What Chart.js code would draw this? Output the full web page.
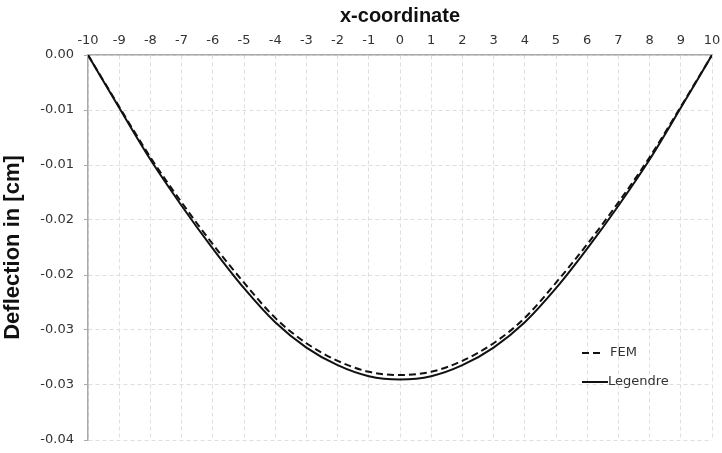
<!DOCTYPE html>
<html>
<head>
<meta charset="utf-8">
<script src="https://cdn.jsdelivr.net/npm/chart.js@4.4.1/dist/chart.umd.min.js"></script>
<style>
  html, body { margin: 0; padding: 0; background: #fff; }
  #wrap { width: 722px; height: 453px; }
</style>
</head>
<body>
<div id="wrap"><canvas id="deflection"></canvas></div>
<script>
// beam positions along x
var xPos = [-10, -9, -8, -7, -6, -5, -4, -3, -2, -1, 0, 1, 2, 3, 4, 5, 6, 7, 8, 9, 10];

// deflection [cm], FEM solution
var femVals = [0, -0.0047, -0.0093, -0.0134, -0.0172, -0.0207, -0.0239, -0.0262, -0.0278, -0.0288, -0.0291,
               -0.0288, -0.0278, -0.0262, -0.0239, -0.0207, -0.0172, -0.0134, -0.0093, -0.0047, 0];

// deflection [cm], Legendre series
var legVals = [0, -0.0048, -0.0095, -0.0137, -0.0176, -0.0212, -0.0243, -0.0266, -0.0282, -0.0292, -0.0295,
               -0.0292, -0.0282, -0.0266, -0.0243, -0.0212, -0.0176, -0.0137, -0.0095, -0.0048, 0];

// y tick labels, top to bottom (0.005 steps printed with 2 decimals)
var yTickLabels = ['0.00', '-0.01', '-0.01', '-0.02', '-0.02', '-0.03', '-0.03', '-0.04'];

function toPoints(vals) {
    return xPos.map(function (x, i) { return { x: x, y: vals[i] }; });
}

var gridColor = '#dedede';
var axisColor = '#aaaaaa';
var tickFont = { family: 'DejaVu Sans', size: 13 };

// legend drawn inside the plot, lower right
var innerLegend = {
    id: 'innerLegend',
    afterDatasetsDraw: function (chart) {
        var ctx = chart.ctx;
        var area = chart.chartArea;
        var x0 = area.right - 130;
        var rows = [area.bottom - 87, area.bottom - 58];
        ctx.save();
        chart.data.datasets.forEach(function (ds, i) {
            var y = rows[i];
            ctx.beginPath();
            ctx.lineWidth = ds.borderWidth;
            ctx.strokeStyle = ds.borderColor;
            ctx.setLineDash(ds.borderDash || []);
            ctx.moveTo(x0, y);
            ctx.lineTo(x0 + (ds.borderDash ? 21 : 26), y);
            ctx.stroke();
            ctx.setLineDash([]);
            ctx.fillStyle = '#333';
            ctx.font = '13px "DejaVu Sans"';
            ctx.textBaseline = 'middle';
            ctx.fillText(ds.label, x0 + (ds.borderDash ? 28 : 26), y);
        });
        ctx.restore();
    }
};

// keep tick-label overhang from shrinking the plot area
function noOverhang(scale) {
    scale.paddingLeft = 0;
    scale.paddingRight = 0;
    scale.paddingTop = 0;
    scale.paddingBottom = 0;
}

var ctx = document.getElementById('deflection').getContext('2d');
var chart = new Chart(ctx, {
    type: 'line',
    data: {
        datasets: [
            {
                label: 'FEM',
                data: toPoints(femVals),
                borderColor: '#111',
                borderWidth: 2,
                borderDash: [7, 4],
                pointRadius: 0,
                fill: false,
                cubicInterpolationMode: 'monotone'
            },
            {
                label: 'Legendre',
                data: toPoints(legVals),
                borderColor: '#111',
                borderWidth: 2,
                pointRadius: 0,
                fill: false,
                cubicInterpolationMode: 'monotone'
            }
        ]
    },
    options: {
        responsive: true,
        maintainAspectRatio: false,
        animation: false,
        layout: { padding: { top: 0, right: 10, bottom: 13, left: 0 } },
        plugins: {
            legend: { display: false },
            tooltip: { enabled: false }
        },
        scales: {
            x: {
                type: 'linear',
                position: 'top',
                min: -10,
                max: 10,
                ticks: {
                    stepSize: 1,
                    color: '#333',
                    font: tickFont,
                    padding: 7,
                    maxRotation: 0
                },
                grid: {
                    color: gridColor,
                    drawTicks: false
                },
                border: { color: axisColor, width: 1.5, dash: [4, 3] },
                title: {
                    display: true,
                    text: 'x-coordinate',
                    color: '#111',
                    font: { family: 'Liberation Sans', size: 20, weight: 'bold' },
                    padding: { top: 4, bottom: 0 }
                },
                afterFit: function (scale) {
                    scale.height = 55;
                    noOverhang(scale);
                }
            },
            y: {
                type: 'linear',
                min: -0.035,
                max: 0,
                ticks: {
                    stepSize: 0.005,
                    color: '#333',
                    font: tickFont,
                    padding: 10,
                    callback: function (v, i) { return yTickLabels[i]; }
                },
                grid: {
                    color: gridColor,
                    tickLength: 4,
                    tickColor: axisColor,
                    tickBorderDash: []
                },
                border: { color: axisColor, width: 1.5, dash: [4, 3] },
                title: {
                    display: true,
                    text: 'Deflection in [cm]',
                    color: '#111',
                    font: { family: 'Liberation Sans', size: 22, weight: 'bold' },
                    padding: { top: 0, bottom: 0 }
                },
                afterFit: function (scale) {
                    scale.width = 88;
                    noOverhang(scale);
                },
                afterBuildTicks: function (scale) {
                    // top-to-bottom order for the label list
                    scale.ticks.sort(function (a, b) { return b.value - a.value; });
                }
            }
        }
    },
    plugins: [innerLegend]
});
</script>
</body>
</html>
